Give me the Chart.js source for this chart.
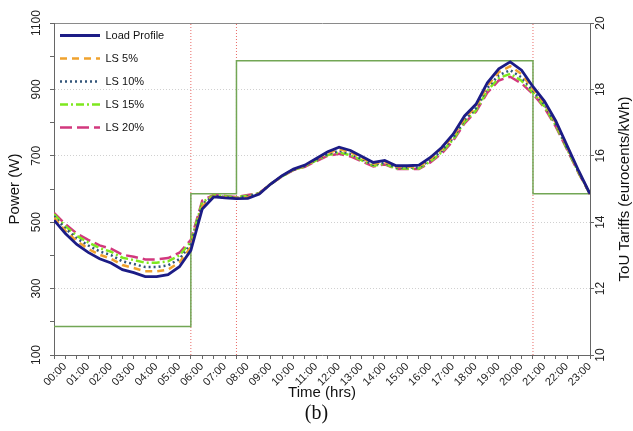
<!DOCTYPE html>
<html>
<head>
<meta charset="utf-8">
<script src="https://cdn.jsdelivr.net/npm/chart.js@4/dist/chart.umd.min.js"></script>
<style>
	html, body { margin: 0; padding: 0; background: #fff; }
	#caixa { width: 633px; height: 431px; }
</style>
</head>
<body>
<div id="caixa"><canvas id="graficoCarga"></canvas></div>
<script>
// Horas (meia em meia hora) e rótulos do eixo X
const tempo = [
	0, 0.5, 1, 1.5, 2, 2.5, 3, 3.5, 4, 4.5, 5, 5.5, 6, 6.5, 7, 7.5,
	8, 8.5, 9, 9.5, 10, 10.5, 11, 11.5, 12, 12.5, 13, 13.5, 14, 14.5, 15, 15.5,
	16, 16.5, 17, 17.5, 18, 18.5, 19, 19.5, 20, 20.5, 21, 21.5, 22, 22.5, 23, 23.5,
];
const rotulosHoras = [
	"00:00", "01:00", "02:00", "03:00", "04:00", "05:00", "06:00", "07:00",
	"08:00", "09:00", "10:00", "11:00", "12:00", "13:00", "14:00", "15:00",
	"16:00", "17:00", "18:00", "19:00", "20:00", "21:00", "22:00", "23:00",
];

// Potência (W)
const perfilCarga = [506, 466, 433, 409, 390, 377, 357, 348, 336, 336, 342, 366, 415, 540, 576, 573, 571, 572, 585, 615, 640, 660, 672, 692, 712, 726, 716, 698, 680, 686, 670, 670, 672, 695, 725, 765, 820, 855, 920, 962, 983, 958, 908, 865, 805, 730, 655, 585];
const ls5 = [513, 474, 443, 420, 402, 390, 371, 362, 352, 352, 357, 379, 425, 548, 578, 575, 573, 575, 586, 615, 639, 659, 670, 690, 708, 720, 711, 694, 676, 682, 667, 667, 668, 690, 720, 759, 813, 848, 911, 952, 970, 946, 901, 859, 800, 726, 653, 585];
const ls10 = [518, 481, 451, 430, 412, 401, 382, 374, 365, 365, 370, 389, 433, 554, 579, 576, 574, 578, 587, 615, 639, 658, 669, 688, 705, 715, 706, 690, 673, 679, 665, 665, 665, 687, 715, 754, 808, 843, 904, 943, 958, 936, 896, 854, 796, 723, 651, 585];
const ls15 = [524, 488, 459, 439, 422, 411, 393, 386, 378, 378, 382, 400, 441, 560, 581, 578, 575, 580, 587, 615, 638, 658, 668, 686, 702, 710, 702, 686, 670, 676, 662, 662, 662, 683, 711, 749, 802, 837, 896, 934, 947, 926, 890, 849, 791, 720, 649, 585];
const ls20 = [528, 494, 466, 447, 430, 420, 402, 396, 388, 388, 392, 408, 447, 565, 582, 579, 576, 582, 588, 615, 638, 657, 667, 684, 700, 706, 698, 683, 668, 674, 660, 660, 660, 680, 707, 745, 798, 833, 890, 927, 938, 918, 886, 845, 788, 718, 648, 585];

// Tarifa ToU (eurocents/kWh)
const tarifaHoras = [0, 6, 8, 21, 23.5];
const tarifaValores = [10.86, 14.86, 18.86, 14.86, 14.86];
const limitesTarifa = [6, 8, 21];
const faixaPotencia = [100, 1100];

Chart.defaults.font.family = "'Liberation Sans', Arial, sans-serif";
Chart.defaults.color = "#222";

const pontos = (valores) => valores.map((v, i) => ({ x: tempo[i], y: v }));

const series = [
	{ label: "Load Profile", data: perfilCarga, cor: "#1c1c86", traco: [], largura: 2.8 },
	{ label: "LS 5%", data: ls5, cor: "#f0a22e", traco: [7, 5], largura: 2.5 },
	{ label: "LS 10%", data: ls10, cor: "#33557a", traco: [2, 3], largura: 2.5 },
	{ label: "LS 15%", data: ls15, cor: "#7ee81e", traco: [8, 3, 2, 3], largura: 2.5 },
	{ label: "LS 20%", data: ls20, cor: "#d2387e", traco: [12, 5], largura: 2.5 },
];

const datasets = series.map((s) => ({
	label: s.label,
	data: pontos(s.data),
	borderColor: s.cor,
	backgroundColor: s.cor,
	borderDash: s.traco,
	borderWidth: s.largura,
	pointRadius: 0,
	tension: 0,
	yAxisID: "y",
}));

// Linha escalonada da tarifa
datasets.push({
	label: "ToU",
	data: tarifaHoras.map((h, i) => ({ x: h, y: tarifaValores[i] })),
	borderColor: "#72a655",
	borderWidth: 1.5,
	pointRadius: 0,
	stepped: true,
	yAxisID: "y2",
});

// Linhas verticais vermelhas nas mudanças de tarifa
limitesTarifa.forEach((h) => {
	datasets.push({
		label: "limite",
		data: faixaPotencia.map((p) => ({ x: h, y: p })),
		borderColor: "#e86a66",
		borderWidth: 1,
		borderDash: [1, 2],
		pointRadius: 0,
		yAxisID: "y",
	});
});

// Título do eixo direito (lido de baixo para cima) e ajuste da legenda dentro da área
const ajustes = {
	id: "ajustes",
	afterLayout(chart) {
		chart.legend.top = chart.chartArea.top - 5;
		chart.legend.left = chart.chartArea.left - 6;
	},
	afterDraw(chart) {
		const { ctx, chartArea } = chart;
		ctx.save();
		ctx.translate(625, (chartArea.top + chartArea.bottom) / 2);
		ctx.rotate(-Math.PI / 2);
		ctx.font = "15px 'Liberation Sans', Arial, sans-serif";
		ctx.fillStyle = "#111";
		ctx.textAlign = "center";
		ctx.textBaseline = "middle";
		ctx.fillText("ToU Tariffs (eurocents/kWh)", 0, 0);
		ctx.restore();
	},
};

const grade = [300, 500, 700, 900];

new Chart(document.getElementById("graficoCarga"), {
	type: "line",
	data: { datasets: datasets },
	plugins: [ajustes],
	options: {
		responsive: true,
		maintainAspectRatio: false,
		animation: false,
		layout: { padding: { top: 23, left: 0, right: 0, bottom: 0 } },
		plugins: {
			legend: {
				position: "chartArea",
				align: "start",
				labels: {
					filter: (item) => item.datasetIndex < 5,
					usePointStyle: true,
					pointStyle: "line",
					pointStyleWidth: 40,
					padding: 12,
					color: "#111",
					font: { size: 11 },
					generateLabels: (chart) =>
						Chart.defaults.plugins.legend.labels.generateLabels(chart).map((item) => {
							const ds = chart.data.datasets[item.datasetIndex];
							item.lineDash = ds.borderDash || [];
							item.lineWidth = ds.borderWidth;
							item.strokeStyle = ds.borderColor;
							return item;
						}),
				},
			},
			subtitle: {
				display: true,
				position: "bottom",
				text: "(b)",
				color: "#111",
				font: { family: "'Liberation Serif', 'Times New Roman', serif", size: 20, weight: "normal" },
				padding: { top: 0, bottom: 5 },
			},
			tooltip: { enabled: false },
		},
		scales: {
			x: {
				type: "linear",
				min: 0,
				max: 23.5,
				afterFit: (escala) => { escala.height = 47; },
				border: { color: "#666" },
				grid: { drawOnChartArea: false, tickLength: 4, tickColor: "#666" },
				ticks: {
					stepSize: 0.5,
					autoSkip: false,
					minRotation: 45,
					maxRotation: 45,
					labelOffset: 11,
					padding: 1,
					font: { size: 11 },
					callback: (v) => (Number.isInteger(v) ? rotulosHoras[v] : ""),
				},
				title: {
					display: true,
					text: "Time (hrs)",
					color: "#111",
					font: { size: 15 },
					padding: { top: 0, bottom: 0 },
				},
			},
			y: {
				position: "left",
				min: faixaPotencia[0],
				max: faixaPotencia[1],
				afterFit: (escala) => { escala.width = 54; },
				border: {
					color: "#666",
					dash: (c) => (c.tick && c.tick.value === 1100 ? [] : [1, 2]),
				},
				grid: {
					tickLength: 4,
					tickColor: "#666",
					color: (c) => {
						if (!c.tick) return "rgba(0,0,0,0)";
						if (c.tick.value === 1100) return "#8a8a8a";
						return grade.includes(c.tick.value) ? "#d0d0d0" : "rgba(0,0,0,0)";
					},
				},
				ticks: {
					stepSize: 100,
					autoSkip: false,
					minRotation: 90,
					maxRotation: 90,
					crossAlign: "center",
					padding: 0,
					font: { size: 12 },
					callback: (v) => (v % 200 === 100 ? v : ""),
				},
				title: {
					display: true,
					text: "Power (W)",
					color: "#111",
					font: { size: 15 },
					padding: { top: 6, bottom: 0 },
				},
			},
			y2: {
				position: "right",
				min: 10,
				max: 20,
				afterFit: (escala) => { escala.width = 43; },
				border: { color: "#666" },
				grid: { drawOnChartArea: false, tickLength: 4, tickColor: "#666" },
				ticks: {
					stepSize: 2,
					autoSkip: false,
					minRotation: 90,
					maxRotation: 90,
					crossAlign: "center",
					padding: 0,
					font: { size: 12 },
				},
			},
		},
	},
});
</script>
</body>
</html>
